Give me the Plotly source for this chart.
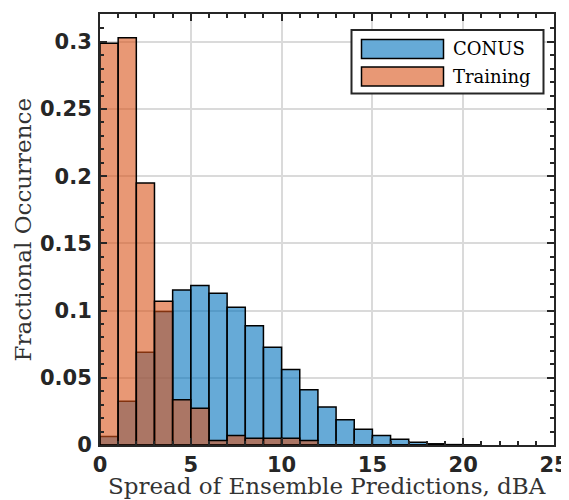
import plotly.graph_objects as go

# ---- data (fractional occurrence per 1-dBA bin) ----
bin_edges = list(range(0, 21))  # left edges of bins 0..20
conus = [0.0063, 0.0325, 0.069, 0.0993, 0.1154, 0.1186, 0.1129, 0.1025, 0.0888, 0.0727,
         0.0561, 0.0412, 0.0283, 0.0187, 0.0117, 0.0070, 0.0042, 0.0021, 0.0009, 0.0003, 0.0]
training = [0.299, 0.303, 0.195, 0.107, 0.0336, 0.0273, 0.0033, 0.007, 0.005, 0.005,
            0.005, 0.0033, 0.0, 0.0, 0.0, 0.0, 0.0, 0.0, 0.0, 0.0, 0.0]
series_names = ["CONUS", "Training"]
x_ticks = [0, 5, 10, 15, 20, 25]
x_ticklabels = ["0", "5", "10", "15", "20", "25"]
y_ticks = [0, 0.05, 0.1, 0.15, 0.2, 0.25, 0.3]
y_ticklabels = ["0", "0.05", "0.1", "0.15", "0.2", "0.25", "0.3"]
x_title = "Spread of Ensemble Predictions, dBA"
y_title = "Fractional Occurrence"

bin_width = 1
centers = [e + bin_width / 2 for e in bin_edges]

blue_fill = "rgba(0,114,189,0.6)"
orange_fill = "rgba(217,83,25,0.6)"
ink = "#262626"

fig = go.Figure()
fig.add_trace(go.Bar(x=centers, y=conus, width=bin_width, name=series_names[0],
                     marker=dict(color=blue_fill, line=dict(color="black", width=1.5))))
fig.add_trace(go.Bar(x=centers, y=training, width=bin_width, name=series_names[1],
                     marker=dict(color=orange_fill, line=dict(color="black", width=1.5))))

tickfont = dict(family="DejaVu Sans", size=21, color=ink, weight="bold")
titlefont = dict(family="DejaVu Serif", size=23, color="#333333")

# page body adds an 8px offset; margins place the plot box at
# x 100..554, y 14..445 of the 569x500 window
fig.update_layout(
    barmode="overlay",
    width=569, height=500,
    margin=dict(l=92, r=23, t=6, b=63),
    paper_bgcolor="white", plot_bgcolor="white",
    showlegend=False,
    xaxis=dict(range=[0, 25.0001], tickvals=x_ticks, ticktext=x_ticklabels, automargin=False,
               showline=True, linewidth=2, linecolor=ink, mirror="allticks",
               ticks="inside", ticklen=7, tickwidth=2, tickcolor=ink,
               showgrid=True, gridcolor="#dadada", gridwidth=2,
               zeroline=False, tickfont=tickfont, ticklabelstandoff=0,
               minor=dict(dtick=1, ticks="inside", ticklen=4, tickwidth=1.5,
                          tickcolor=ink, showgrid=False)),
    yaxis=dict(range=[0, 0.3207], tickvals=y_ticks, ticktext=y_ticklabels, automargin=False,
               showline=True, linewidth=2, linecolor=ink, mirror="allticks",
               ticks="inside", ticklen=7, tickwidth=2, tickcolor=ink,
               showgrid=True, gridcolor="#dadada", gridwidth=2,
               zeroline=False, tickfont=tickfont, ticklabelstandoff=2,
               minor=dict(dtick=0.01, tick0=0, ticks="inside", ticklen=4, tickwidth=1.5,
                          tickcolor=ink, showgrid=False)),
)

# helpers converting window pixels to paper coords of the plot box
plot_l, plot_r, plot_t, plot_b = 100, 554, 14, 445
def px(xp):
    return (xp - plot_l) / (plot_r - plot_l)
def py(yp):
    return (plot_b - yp) / (plot_b - plot_t)

# axis titles
fig.add_annotation(xref="paper", yref="paper", x=0.5, y=py(471), text=x_title,
                   showarrow=False, xanchor="center", yanchor="top", font=titlefont)
fig.add_annotation(xref="paper", yref="paper", x=px(7), y=0.5, text=y_title, textangle=-90,
                   showarrow=False, xanchor="left", yanchor="middle", font=titlefont)

# custom legend (MATLAB style box with wide swatches)
fig.add_shape(type="rect", xref="paper", yref="paper",
              x0=px(351.5), x1=px(543.5), y0=py(93.5), y1=py(30),
              fillcolor="white", line=dict(color=ink, width=2), layer="above")
swatches = [(blue_fill, 39.5, 58.5, 49, series_names[0]),
            (orange_fill, 67, 86, 76.5, series_names[1])]
for fill, t, b, cy, name in swatches:
    fig.add_shape(type="rect", xref="paper", yref="paper",
                  x0=px(361.5), x1=px(443.5), y0=py(b), y1=py(t),
                  fillcolor=fill, line=dict(color="black", width=1.5), layer="above")
    fig.add_annotation(xref="paper", yref="paper", x=px(451), y=py(cy),
                       text=name, showarrow=False, xanchor="left", yanchor="middle",
                       font=dict(family="DejaVu Serif", size=18, color="black"))

fig.write_html("out.html")
